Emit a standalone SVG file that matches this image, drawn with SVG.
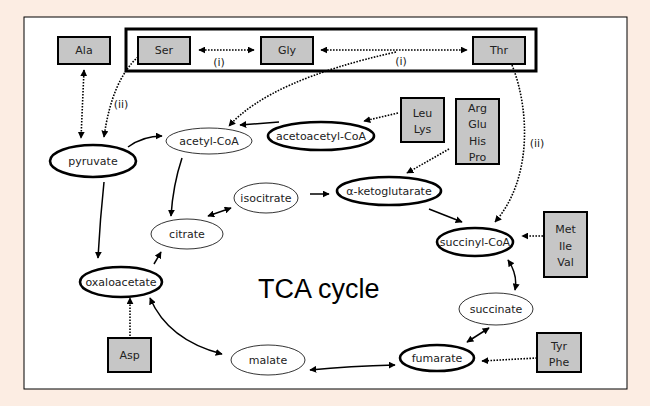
<svg xmlns="http://www.w3.org/2000/svg" width="650" height="406" viewBox="0 0 650 406">
<defs>
<marker id="ah" viewBox="0 0 10 10" refX="9" refY="5" markerWidth="7" markerHeight="7" markerUnits="userSpaceOnUse" orient="auto-start-reverse">
<path d="M0,0 L10,5 L0,10 z" fill="#000"/>
</marker>
<style>
.lbl{font-family:"DejaVu Sans",sans-serif;font-size:11px;fill:#222;text-anchor:middle;dominant-baseline:central}
.box{fill:#c6c6c6;stroke:#000;stroke-width:2}
.thin{fill:#fff;stroke:#000;stroke-width:0.8}
.thick{fill:#fff;stroke:#000;stroke-width:2.6}
.sol{fill:none;stroke:#000;stroke-width:1.5}
.dot{fill:none;stroke:#000;stroke-width:1.6;stroke-dasharray:1.6 1.4}
</style>
</defs>
<rect width="650" height="406" fill="#fcede3"/>
<rect x="24" y="17" width="603" height="372" fill="#fff" stroke="#000" stroke-width="1"/>
<rect id="group-box" x="126" y="29" width="410" height="42" fill="none" stroke="#000" stroke-width="3"/>

<g id="ala"><rect class="box" x="58" y="37" width="52" height="27"/><text class="lbl" x="84" y="50.5">Ala</text></g>
<g id="ser"><rect class="box" x="138" y="37" width="52" height="27"/><text class="lbl" x="164" y="50.5">Ser</text></g>
<g id="gly"><rect class="box" x="261" y="37" width="52" height="27"/><text class="lbl" x="287" y="50.5">Gly</text></g>
<g id="thr"><rect class="box" x="473" y="37" width="52" height="27"/><text class="lbl" x="499" y="50.5">Thr</text></g>
<g id="leulys"><rect class="box" x="401" y="98" width="43" height="44" stroke-width="2.6"/><text class="lbl" x="422.5" y="113">Leu</text><text class="lbl" x="422.5" y="129">Lys</text></g>
<g id="arg"><rect class="box" x="456" y="99" width="43" height="65"/><text class="lbl" x="477.5" y="108">Arg</text><text class="lbl" x="477.5" y="124">Glu</text><text class="lbl" x="477.5" y="141">His</text><text class="lbl" x="477.5" y="157">Pro</text></g>
<g id="metileval"><rect class="box" x="544" y="212" width="43" height="65"/><text class="lbl" x="565.5" y="229">Met</text><text class="lbl" x="565.5" y="246">Ile</text><text class="lbl" x="565.5" y="262">Val</text></g>
<g id="tyrphe"><rect class="box" x="537" y="333" width="44" height="39"/><text class="lbl" x="559" y="346">Tyr</text><text class="lbl" x="559" y="362">Phe</text></g>
<g id="asp"><rect class="box" x="108" y="338" width="43" height="34"/><text class="lbl" x="129.5" y="355">Asp</text></g>

<g id="pyruvate"><ellipse class="thick" cx="93" cy="161" rx="43" ry="16"/><text class="lbl" x="93" y="161">pyruvate</text></g>
<g id="acetylcoa"><ellipse class="thin" cx="209" cy="141" rx="43" ry="13"/><text class="lbl" x="209" y="141">acetyl-CoA</text></g>
<g id="acetoacetylcoa"><ellipse class="thick" cx="321" cy="136" rx="53" ry="14"/><text class="lbl" x="321" y="136">acetoacetyl-CoA</text></g>
<g id="isocitrate"><ellipse class="thin" cx="266" cy="198" rx="32" ry="15"/><text class="lbl" x="266" y="198">isocitrate</text></g>
<g id="akg"><ellipse class="thick" cx="389" cy="191" rx="52" ry="14"/><text class="lbl" x="389" y="191">α-ketoglutarate</text></g>
<g id="citrate"><ellipse class="thin" cx="187" cy="234" rx="36" ry="15"/><text class="lbl" x="187" y="234">citrate</text></g>
<g id="succinylcoa"><ellipse class="thick" cx="475" cy="242" rx="38" ry="14"/><text class="lbl" x="475" y="242">succinyl-CoA</text></g>
<g id="oxaloacetate"><ellipse class="thick" cx="121" cy="282" rx="41" ry="15"/><text class="lbl" x="121" y="282">oxaloacetate</text></g>
<g id="succinate"><ellipse class="thin" cx="496" cy="309" rx="37" ry="16"/><text class="lbl" x="496" y="309">succinate</text></g>
<g id="malate"><ellipse class="thin" cx="268" cy="360" rx="37" ry="15"/><text class="lbl" x="268" y="360">malate</text></g>
<g id="fumarate"><ellipse class="thick" cx="437" cy="358" rx="37" ry="13"/><text class="lbl" x="437" y="358">fumarate</text></g>

<text x="258" y="298" font-family="'Liberation Sans',Arial,sans-serif" font-size="27" fill="#000">TCA cycle</text>

<g id="connectors">
<path class="dot" d="M199,50 L254,50" marker-start="url(#ah)" marker-end="url(#ah)"/>
<path class="dot" d="M321,50 L467,50" marker-start="url(#ah)" marker-end="url(#ah)"/>
<path class="dot" d="M84,70 L81,138" marker-start="url(#ah)" marker-end="url(#ah)"/>
<path class="dot" d="M138,57 Q112,80 104,137" marker-end="url(#ah)"/>
<path class="dot" d="M396,52 Q270,80 229,126" marker-end="url(#ah)"/>
<path class="dot" d="M398,113 L364,121" marker-end="url(#ah)"/>
<path class="dot" d="M449,149 L407,173" marker-end="url(#ah)"/>
<path class="dot" d="M512,65 C530,110 532,180 495,222" marker-end="url(#ah)"/>
<path class="dot" d="M543,236 L522,236" marker-end="url(#ah)"/>
<path class="dot" d="M537,358 L482,361" marker-end="url(#ah)"/>
<path class="dot" d="M130,336 L130,298" marker-end="url(#ah)"/>

<path class="sol" d="M128,147 Q143,136 162,136" marker-end="url(#ah)"/>
<path class="sol" d="M279,122 L240,125" marker-end="url(#ah)"/>
<path class="sol" d="M182,158 Q173,185 171,216" marker-end="url(#ah)"/>
<path class="sol" d="M104,182 Q100,220 98,258" marker-end="url(#ah)"/>
<path class="sol" d="M208,216 L231,208" marker-start="url(#ah)" marker-end="url(#ah)"/>
<path class="sol" d="M310,194 L329,194" marker-end="url(#ah)"/>
<path class="sol" d="M154,264 L161,252" marker-end="url(#ah)"/>
<path class="sol" d="M429,209 L462,222" marker-end="url(#ah)"/>
<path class="sol" d="M508,260 Q518,275 515,290" marker-start="url(#ah)" marker-end="url(#ah)"/>
<path class="sol" d="M467,342 L489,328" marker-start="url(#ah)" marker-end="url(#ah)"/>
<path class="sol" d="M310,370 Q350,366 395,365" marker-start="url(#ah)" marker-end="url(#ah)"/>
<path class="sol" d="M150,298 Q168,340 222,354" marker-start="url(#ah)" marker-end="url(#ah)"/>
</g>

<text class="lbl" x="219" y="62">(i)</text>
<text class="lbl" x="401" y="61">(i)</text>
<text class="lbl" x="121" y="104">(ii)</text>
<text class="lbl" x="537" y="143">(ii)</text>
</svg>
